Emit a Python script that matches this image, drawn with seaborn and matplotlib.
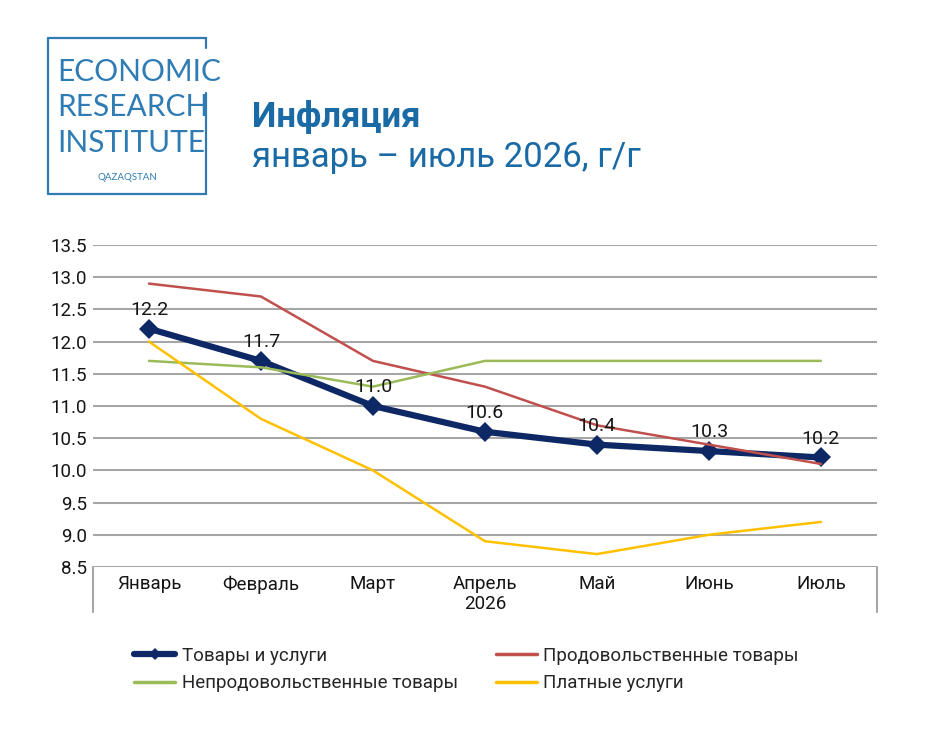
import pandas as pd
import matplotlib.pyplot as plt
import seaborn as sns
from matplotlib.lines import Line2D

# Data
months = ['Январь', 'Февраль', 'Март', 'Апрель\n2026', 'Май', 'Июнь', 'Июль']
total = [12.2, 11.7, 11.0, 10.6, 10.4, 10.3, 10.2]
food = [12.9, 12.7, 11.7, 11.3, 10.7, 10.4, 10.1]
nonfood = [11.7, 11.6, 11.3, 11.7, 11.7, 11.7, 11.7]
services = [12.0, 10.8, 10.0, 8.9, 8.7, 9.0, 9.2]
y_ticks = [8.5, 9.0, 9.5, 10.0, 10.5, 11.0, 11.5, 12.0, 12.5, 13.0, 13.5]

names = ['Товары и услуги', 'Продовольственные товары',
         'Непродовольственные товары', 'Платные услуги']
colors = ['#0E2865', '#C0504D', '#9BBB59', '#FFC000']

df = pd.DataFrame({'pos': range(len(months)), 'total': total, 'food': food,
                   'nonfood': nonfood, 'services': services})

sns.set_style('white')
plt.rcParams['font.family'] = ['Roboto', 'DejaVu Sans']

fig = plt.figure(figsize=(9.25, 7.43), dpi=100)
ax = fig.add_axes([0.1005, 0.2369, 0.8475, 0.4334])

grid_c = '#A6A6A6'
txt_c = '#151515'
for t in y_ticks:
    ax.axhline(t, color=grid_c, lw=1.5, zorder=0)

sns.lineplot(data=df, x='pos', y='total', ax=ax, color=colors[0], lw=4.5,
             marker='D', markersize=10, markeredgewidth=0, zorder=3)
sns.lineplot(data=df, x='pos', y='food', ax=ax, color=colors[1], lw=1.8, zorder=4)
sns.lineplot(data=df, x='pos', y='nonfood', ax=ax, color=colors[2], lw=1.8, zorder=4)
sns.lineplot(data=df, x='pos', y='services', ax=ax, color=colors[3], lw=1.8, zorder=4)

for i, v in enumerate(total):
    ax.annotate(f'{v:.1f}', (i, v), xytext=(0, 7), textcoords='offset points',
                ha='center', va='bottom', fontsize=14, color=txt_c, zorder=5)

ax.set_xlim(-0.5, len(months) - 0.5)
ax.set_ylim(8.5, 13.5)
ax.set_xticks(range(len(months)))
ax.set_xticklabels(months, fontsize=13.5, color=txt_c, linespacing=1.15)
ax.set_yticks(y_ticks)
ax.set_yticklabels([f'{t:.1f}' for t in y_ticks], fontsize=13.5, color=txt_c)
ax.tick_params(axis='y', length=0, pad=4)
ax.tick_params(axis='x', length=0, pad=6)
ax.set_xlabel('')
ax.set_ylabel('')
for s in ax.spines.values():
    s.set_visible(False)

# category box borders
for xa in (0, 1):
    ax.plot([xa, xa], [0, -0.14], transform=ax.transAxes, color=grid_c,
            lw=1.5, clip_on=False)

# legend
handles = [
    Line2D([], [], color=colors[0], lw=4.5, marker='D', markersize=6, markeredgewidth=0),
    Line2D([], [], color=colors[2], lw=2.5),
    Line2D([], [], color=colors[1], lw=2.5),
    Line2D([], [], color=colors[3], lw=2.5),
]
labels = [names[0], names[2], names[1], names[3]]
fig.legend(handles, labels, ncol=2, loc='upper left', bbox_to_anchor=(0.1288, 0.1494),
           frameon=False, fontsize=13.5, handlelength=2.2, handletextpad=0.35,
           columnspacing=2.0, labelspacing=0.5, borderpad=0.3)

# logo
logo_c = '#2F7CB5'
W, H = 925, 743
def fx(p):
    return p / W
def fy(p):
    return 1 - p / H
lkw = dict(color=logo_c, lw=1.6, transform=fig.transFigure)
fig.add_artist(Line2D([fx(48), fx(206)], [fy(38), fy(38)], **lkw))
fig.add_artist(Line2D([fx(48), fx(48)], [fy(38), fy(194)], **lkw))
fig.add_artist(Line2D([fx(48), fx(206)], [fy(194), fy(194)], **lkw))
fig.add_artist(Line2D([fx(206), fx(206)], [fy(38), fy(48)], **lkw))
fig.add_artist(Line2D([fx(206), fx(206)], [fy(93), fy(194)], **lkw))
for txt, yy in [('ECONOMIC', 72), ('RESEARCH', 107), ('INSTITUTE', 143)]:
    fig.text(fx(57), fy(yy), txt, fontsize=21.5, color=logo_c, family='Lato',
             va='center', ha='left')
fig.text(fx(127), fy(178), 'QAZAQSTAN', fontsize=7, color=logo_c, family='Lato',
         va='center', ha='center')

title_c = '#1A6AA6'
fig.text(fx(252), fy(117), 'Инфляция', fontsize=25, fontweight='bold', color=title_c,
         va='center', ha='left')
fig.text(fx(252), fy(158), 'январь – июль 2026, г/г', fontsize=25, color=title_c,
         va='center', ha='left')

plt.savefig('out.png', dpi=100)
